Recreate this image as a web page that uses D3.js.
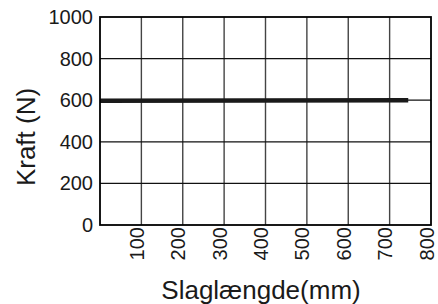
<!DOCTYPE html>
<html>
<head>
<meta charset="utf-8">
<script src="https://cdn.jsdelivr.net/npm/d3@7"></script>
<style>
  html, body { margin: 0; padding: 0; background: #fff; }
  svg { display: block; font-family: "Liberation Sans", Arial, sans-serif; }
</style>
</head>
<body>
<div id="chart"></div>
<script>
// stroke (mm) vs force (N)
var strokeValues = [0, 745];
var forceValues = [597, 600];
var xTicks = [100, 200, 300, 400, 500, 600, 700, 800];
var yTicks = [0, 200, 400, 600, 800, 1000];

var width = 438,
    height = 304,
    margin = {left: 100, top: 17, right: 7, bottom: 79};

var svg = d3.select('#chart').append('svg')
    .attr('width', width)
    .attr('height', height);

var xScale = d3.scaleLinear()
    .domain([0, 800])
    .range([margin.left, width - margin.right]);

var yScale = d3.scaleLinear()
    .domain([0, 1000])
    .range([height - margin.bottom, margin.top]);

// grid
var grid = svg.append('g');
grid.selectAll('.vg')
    .data(xTicks.slice(0, -1))
    .enter()
    .append('line')
    .attr('x1', function(d) { return xScale(d); })
    .attr('x2', function(d) { return xScale(d); })
    .attr('y1', yScale(0))
    .attr('y2', yScale(1000))
    .attr('stroke', '#444')
    .attr('stroke-width', 1.4);

grid.selectAll('.hg')
    .data(yTicks.slice(1, -1))
    .enter()
    .append('line')
    .attr('x1', xScale(0))
    .attr('x2', xScale(800))
    .attr('y1', function(d) { return yScale(d); })
    .attr('y2', function(d) { return yScale(d); })
    .attr('stroke', '#111')
    .attr('stroke-width', 1.3);

// data line
var line = d3.line()
    .x(function(d) { return xScale(d[0]); })
    .y(function(d) { return yScale(d[1]); });

svg.append('path')
    .datum(d3.zip(strokeValues, forceValues))
    .attr('d', line)
    .attr('fill', 'none')
    .attr('stroke', '#1a1a1a')
    .attr('stroke-width', 4.5);

// frame
svg.append('rect')
    .attr('x', xScale(0))
    .attr('y', yScale(1000))
    .attr('width', xScale(800) - xScale(0))
    .attr('height', yScale(0) - yScale(1000))
    .attr('fill', 'none')
    .attr('stroke', '#000')
    .attr('stroke-width', 1.8);

// y axis
var yAxis = d3.axisLeft(yScale)
    .tickValues(yTicks)
    .tickFormat(d3.format('d'))
    .tickSize(0)
    .tickPadding(7);

var yy = svg.append('g')
    .attr('transform', 'translate(' + xScale(0) + ',0)')
    .call(yAxis);
yy.select('.domain').remove();
yy.selectAll('text')
    .attr('fill', '#1a1a1a')
    .style('font-size', '20px')
    .style('font-family', '"Liberation Sans", Arial, sans-serif');

// x axis
var xAxis = d3.axisBottom(xScale)
    .tickValues(xTicks)
    .tickFormat(d3.format('d'))
    .tickSize(0);

var xx = svg.append('g')
    .attr('transform', 'translate(0,' + yScale(0) + ')')
    .call(xAxis);
xx.select('.domain').remove();
xx.selectAll('text')
    .attr('fill', '#1a1a1a')
    .style('font-size', '20px')
    .style('font-family', '"Liberation Sans", Arial, sans-serif')
    .style('text-anchor', 'end')
    .attr('x', 0)
    .attr('y', 0)
    .attr('dy', '0.35em')
    .attr('transform', 'translate(-5,2) rotate(-90)');

// titles
svg.append('text')
    .attr('transform', 'translate(35,137) rotate(-90)')
    .attr('text-anchor', 'middle')
    .attr('fill', '#1a1a1a')
    .style('font-size', '26px')
    .text('Kraft (N)');

svg.append('text')
    .attr('x', 261)
    .attr('y', 299)
    .attr('text-anchor', 'middle')
    .attr('fill', '#1a1a1a')
    .style('font-size', '26px')
    .text('Slaglængde(mm)');
</script>
</body>
</html>
